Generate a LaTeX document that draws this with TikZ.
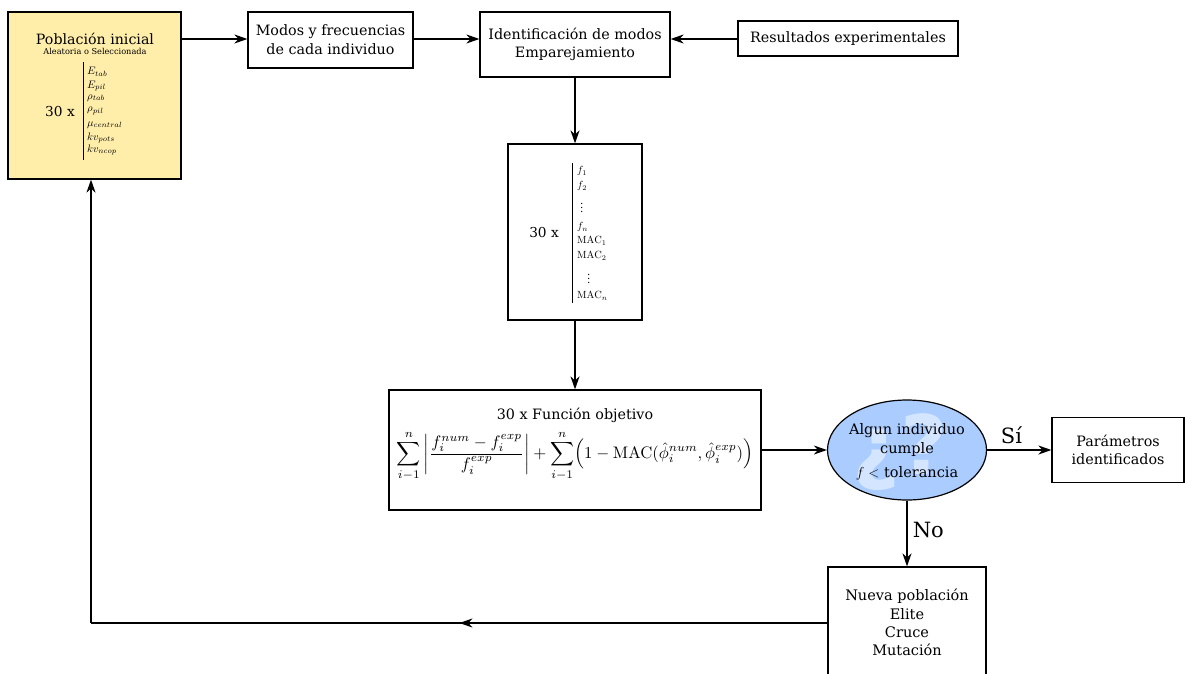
\RequirePackage{fix-cm}
\documentclass[tikz,border=0pt]{standalone}
\usepackage[no-math]{fontspec}
\setmainfont{DejaVu Serif}
\newfontfamily\wmfont{DejaVu Sans}
\usepackage{graphicx}
\usetikzlibrary{arrows.meta,shapes.geometric,decorations.markings}
\definecolor{popyellow}{HTML}{FFEEAA}
\definecolor{decblue}{HTML}{AACCFF}
\begin{document}
\begin{tikzpicture}[x=1pt,y=-1pt,
  box/.style={draw=black,line width=1.2pt,inner sep=0pt,align=center,font=\fontsize{14.3}{18.7}\selectfont},
  conn/.style={line width=1.6pt,-{Stealth[length=13pt,width=9pt,inset=4pt]}},
  plain/.style={line width=1.6pt},
  itemtxt/.style={anchor=west,inner sep=0pt,font=\fontsize{10.8}{11}\selectfont},
  mitem/.style={anchor=west,inner sep=0pt,font=\fontsize{10.4}{11}\selectfont},
  lbl/.style={font=\fontsize{21}{24}\selectfont,inner sep=0pt}]
\useasboundingbox (0,0) rectangle (1185,673);
\begin{scope}
\clip (0,0) rectangle (1185,673);
% boxes
\node[box,fill=popyellow,minimum width=173,minimum height=167] (pob) at (94.5,95.5) {};
\node[inner sep=0pt,font=\fontsize{14.2}{16}\selectfont] (pobt) at (95,39) {Población inicial};
\node[inner sep=0pt,font=\fontsize{8.2}{9}\selectfont] (pobs) at (95,51.5) {Aleatoria o Seleccionada};
\node[inner sep=0pt,font=\fontsize{13.7}{15}\selectfont] (pob30) at (60,112) {30 x};
\coordinate (pl1) at (83,62); \coordinate (pl2) at (83,160);
\draw[line width=0.8pt] (pl1) -- (pl2);
\node[itemtxt] (p1) at (87,72) {$E_{tab}$};
\node[itemtxt] (p2) at (87,86) {$E_{pil}$};
\node[itemtxt] (p3) at (87,98) {$\rho_{tab}$};
\node[itemtxt] (p4) at (87,111) {$\rho_{pil}$};
\node[itemtxt] (p5) at (87,125) {$\mu_{central}$};
\node[itemtxt] (p6) at (87,138) {$kv_{pots}$};
\node[itemtxt] (p7) at (87,150) {$kv_{ncop}$};

\node[box,minimum width=165,minimum height=56] (modos) at (330.5,40) {Modos y frecuencias\\de cada individuo};
\node[box,minimum width=190,minimum height=65] (ident) at (575,44.5) {Identificación de modos\\Emparejamiento};
\node[box,minimum width=220,minimum height=35] (res) at (848,38.5) {Resultados experimentales};

\node[box,minimum width=134,minimum height=176] (mid) at (575,232) {};
\node[inner sep=0pt,font=\fontsize{13.7}{15}\selectfont] (mid30) at (544,233) {30 x};
\coordinate (ml1) at (572,163); \coordinate (ml2) at (572,303);
\draw[line width=0.8pt] (ml1) -- (ml2);
\node[mitem] (m1) at (577,171) {$f_1$};
\node[mitem] (m2) at (577,186) {$f_2$};
\node[mitem] (m3) at (580,205) {$\vdots$};
\node[mitem] (m4) at (577,227) {$f_n$};
\node[mitem] (m5) at (577,241) {$\mathrm{MAC}_1$};
\node[mitem] (m6) at (577,256) {$\mathrm{MAC}_2$};
\node[mitem] (m7) at (587,276) {$\vdots$};
\node[mitem] (m8) at (577,296) {$\mathrm{MAC}_n$};

\node[box,minimum width=372,minimum height=120] (fobj) at (575,450) {};
\node[inner sep=0pt,font=\fontsize{14.3}{16}\selectfont] (fobjt) at (575,415) {30 x Función objetivo};
\node[inner sep=0pt] (fobjf) at (575,456) {\scalebox{1.67}{\fontsize{10}{12}\selectfont$\displaystyle\sum_{i-1}^{n}\left|\frac{f_i^{num}-f_i^{exp}}{f_i^{exp}}\right|+\sum_{i-1}^{n}\Bigl(1-\mathrm{MAC}(\hat{\phi}_i^{num},\hat{\phi}_i^{exp})\Bigr)$}};

\node[draw=black,line width=1.2pt,fill=decblue,ellipse,minimum width=159,minimum height=100,inner sep=0pt] (dec) at (907,450) {};
\node[inner sep=0pt,text=white,text opacity=0.5,font=\wmfont\bfseries\fontsize{82}{82}\selectfont] (wm) at (900,452) {¿?};
\node[inner sep=0pt,align=center,font=\fontsize{14.5}{19}\selectfont] (dect) at (907,440) {Algun individuo\\cumple};
\node[inner sep=0pt,font=\fontsize{14.5}{16}\selectfont] (dect2) at (907,473) {$f<$ tolerancia};

\node[box,minimum width=132,minimum height=65] (par) at (1118,450) {Parámetros\\identificados};
\node[box,minimum width=158,minimum height=130] (nueva) at (907,632) {};
\node[inner sep=0pt,align=center,font=\fontsize{14.5}{18.4}\selectfont] (nuevat) at (907,622.5) {Nueva población\\Elite\\Cruce\\Mutación};

% connectors
\draw[conn] (pob.east |- 0,39) -- (modos.west |- 0,39);
\draw[conn] (modos.east |- 0,39) -- (ident.west |- 0,39);
\draw[conn] (res.west |- 0,39) -- (ident.east |- 0,39);
\draw[conn] (ident.south) -- (mid.north);
\draw[conn] (mid.south) -- (fobj.north);
\draw[conn] (fobj.east) -- (dec.west);
\draw[conn] (dec.east) -- node[lbl,above=5pt,pos=0.38] (si) {Sí} (par.west);
\draw[conn] (dec.south) -- node[lbl,right=5pt,pos=0.45] (no) {No} (nueva.north);
\coordinate (corner) at (91,623);
\draw[plain,postaction={decorate},decoration={markings,mark=at position 368pt with {\arrow{Stealth[length=13pt,width=9pt,inset=4pt]}}}] (nueva.west |- 0,623) -- (corner);
\draw[conn] (corner) -- (pob.south -| corner);
\end{scope}
\end{tikzpicture}
\end{document}
